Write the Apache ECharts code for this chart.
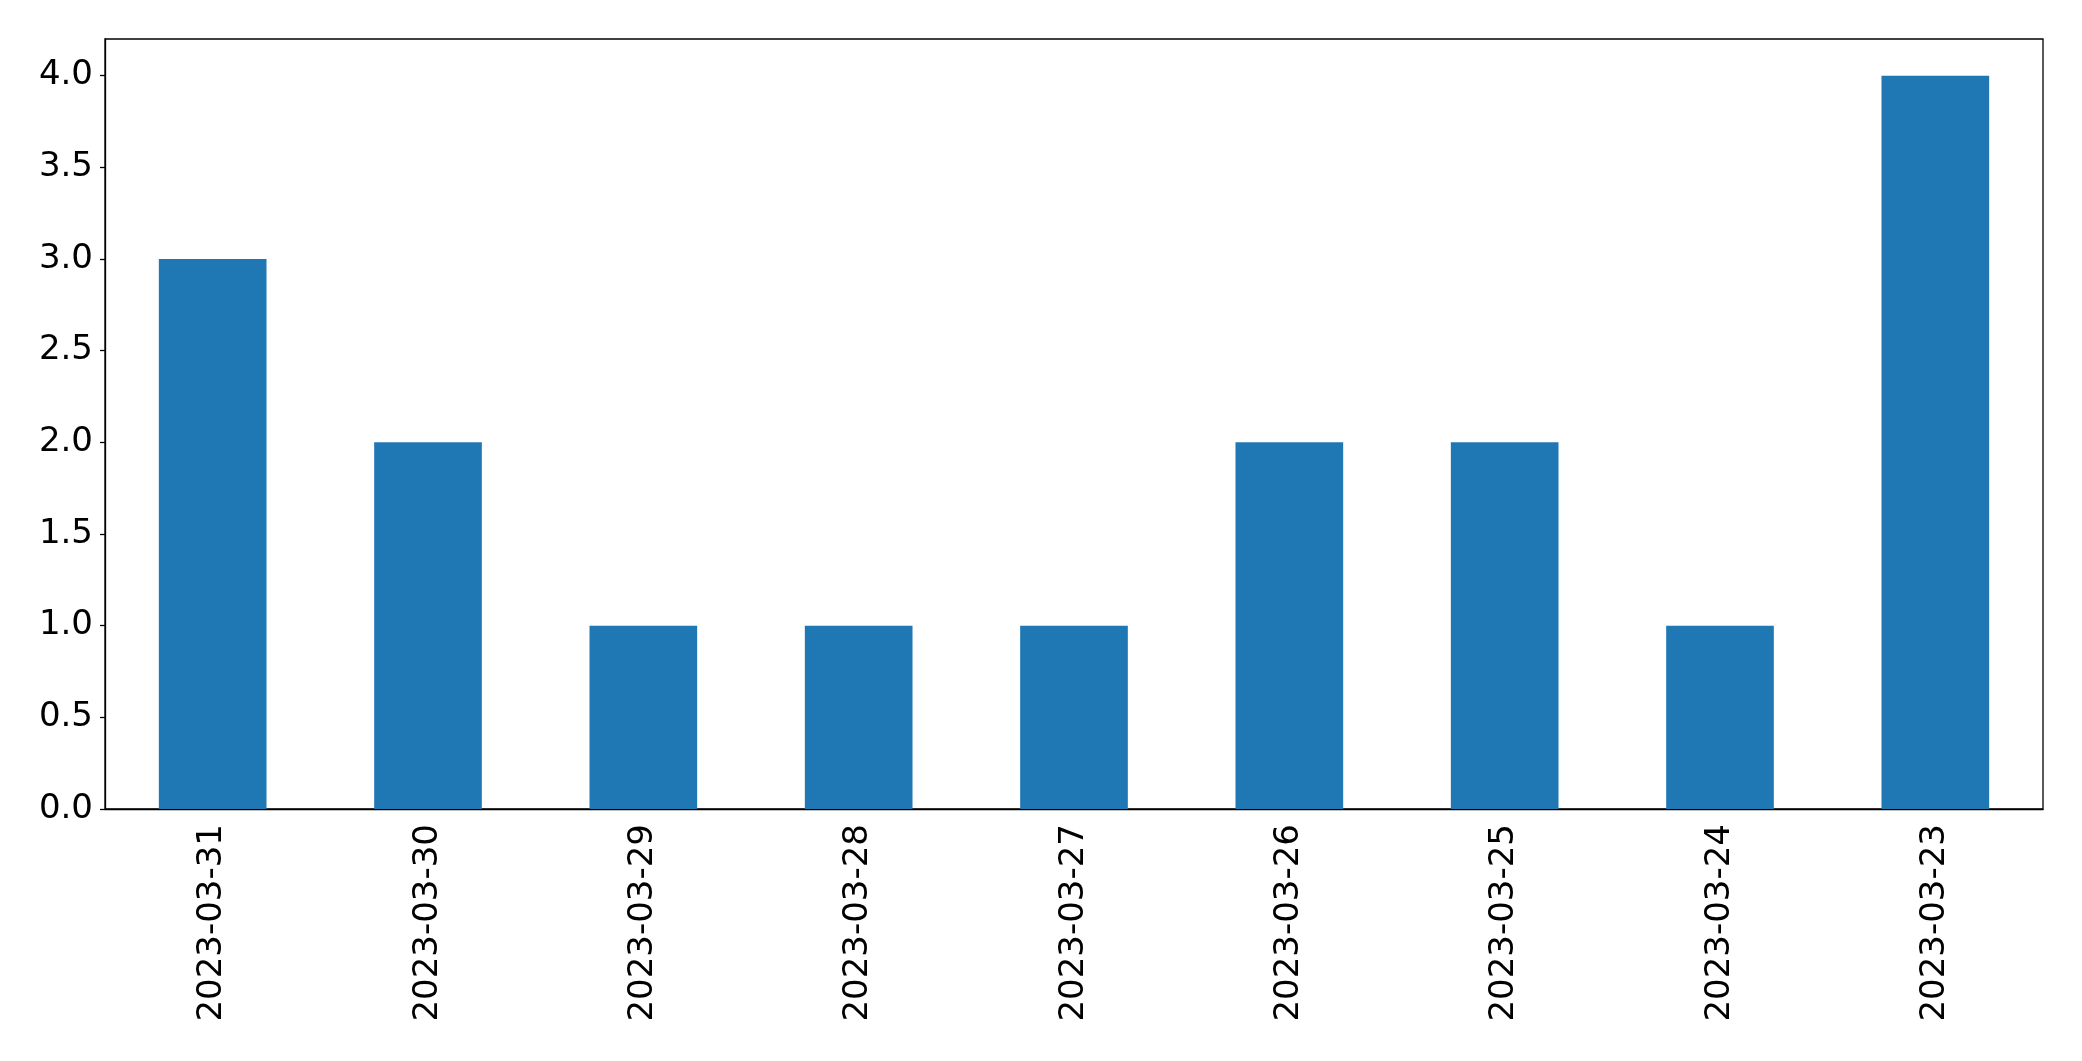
<!DOCTYPE html>
<html>
<head>
<meta charset="utf-8">
<script src="https://cdn.jsdelivr.net/npm/echarts@6/dist/echarts.min.js"></script>
<style>
  html, body { margin: 0; padding: 0; background: #fff; }
  #chart { width: 2082px; height: 1061px; }
</style>
</head>
<body>
<div id="chart"></div>
<script>
const categories = ['2023-03-31', '2023-03-30', '2023-03-29', '2023-03-28', '2023-03-27',
  '2023-03-26', '2023-03-25', '2023-03-24', '2023-03-23']
const counts = [3, 2, 1, 1, 1, 2, 2, 1, 4]
const yTicks = [0, 0.5, 1, 1.5, 2, 2.5, 3, 3.5, 4]

const chart = echarts.init(document.getElementById('chart'))

const font = { fontFamily: 'DejaVu Sans', fontSize: 34, color: '#000' }

chart.setOption({
  animation: false,
  grid: {
    left: 105,
    top: 39,
    width: 1938,
    height: 770,
    show: true,
    borderColor: '#000',
    borderWidth: 1.3,
    containLabel: false
  },
  xAxis: {
    type: 'category',
    data: categories,
    boundaryGap: true,
    axisLine: { lineStyle: { color: '#000', width: 1.3 } },
    axisTick: { alignWithLabel: true, length: 5, lineStyle: { color: '#000', width: 1.3 } },
    axisLabel: { ...font, rotate: 90, margin: 15, interval: 0 },
    splitLine: { show: false }
  },
  yAxis: {
    type: 'value',
    min: 0,
    max: 4.2,
    interval: 0.5,
    axisLine: { show: true, lineStyle: { color: '#000', width: 1.3 } },
    axisTick: { show: true, length: 5, customValues: yTicks, lineStyle: { color: '#000', width: 1.3 } },
    axisLabel: {
      ...font,
      margin: 12,
      padding: [8, 0, 0, 0],
      customValues: yTicks,
      formatter: v => v.toFixed(1)
    },
    splitLine: { show: false }
  },
  series: [
    {
      type: 'bar',
      data: counts,
      barWidth: '50%',
      itemStyle: { color: '#1f77b4' }
    }
  ]
})
</script>
</body>
</html>
